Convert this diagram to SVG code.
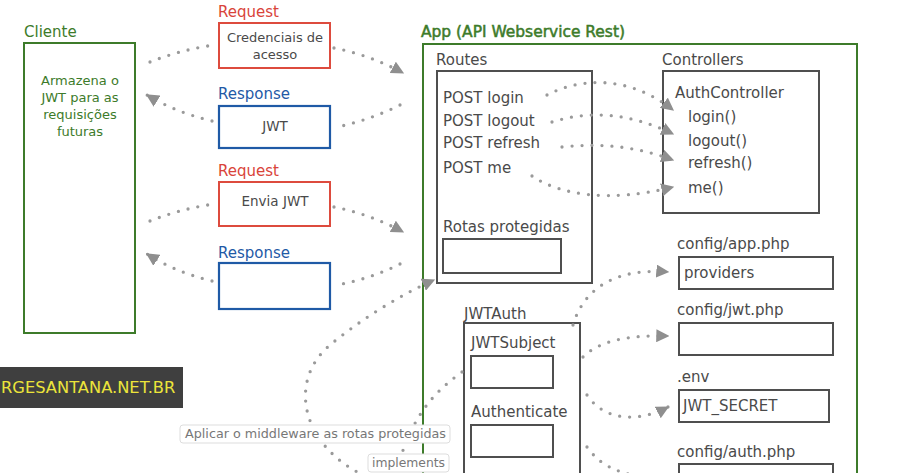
<svg xmlns="http://www.w3.org/2000/svg" width="909" height="473" viewBox="0 0 909 473">
<style>
text{font-family:"DejaVu Sans","Liberation Sans",sans-serif;fill:#4a4a4a;font-size:15px}
.g{fill:#3d7b2a}
.r{fill:#d9443a}
.b{fill:#1f5aa6}
.sm{font-size:13px}
.bt{font-size:13.5px}
.box{fill:#fff;stroke:#4f4f4f;stroke-width:2}
.gbox{fill:none;stroke:#3d7b2a;stroke-width:2}
.rbox{fill:#fff;stroke:#dd4b3e;stroke-width:2}
.bbox{fill:#fff;stroke:#1f5aa6;stroke-width:2.2}
.dot{fill:none;stroke:#9a9a9a;stroke-width:3.3;stroke-linecap:round;stroke-dasharray:0 10}
.lbl{fill:#fff;stroke:#ddd;stroke-width:1}
.lt{font-size:12px;fill:#777}
</style>
<defs>
<marker id="ah" viewBox="0 0 10 10" refX="9" refY="5" markerWidth="13" markerHeight="13" markerUnits="userSpaceOnUse" orient="auto">
<path d="M0 0 L10 5 L0 10 Z" fill="#8f8f8f"/>
</marker>
</defs>

<g id="cliente">
<text class="g" x="24" y="37">Cliente</text>
<rect class="gbox" x="24" y="43" width="111" height="290"/>
<text class="g sm" text-anchor="middle" x="80" y="85">Armazena o</text>
<text class="g sm" text-anchor="middle" x="80" y="102">JWT para as</text>
<text class="g sm" text-anchor="middle" x="80" y="119">requisições</text>
<text class="g sm" text-anchor="middle" x="80" y="136">futuras</text>
</g>

<g id="req1">
<text class="r" x="218" y="17">Request</text>
<rect class="rbox" x="219" y="23" width="111" height="45"/>
<text class="sm" text-anchor="middle" x="275" y="42">Credenciais de</text>
<text class="sm" text-anchor="middle" x="275" y="59">acesso</text>
</g>

<g id="resp1">
<text class="b" x="218" y="99">Response</text>
<rect class="bbox" x="219" y="106" width="111" height="42"/>
<text class="bt" text-anchor="middle" x="275" y="131">JWT</text>
</g>

<g id="req2">
<text class="r" x="218" y="176">Request</text>
<rect class="rbox" x="219" y="182" width="111" height="44"/>
<text class="bt" text-anchor="middle" x="275" y="206">Envia JWT</text>
</g>

<g id="resp2">
<text class="b" x="218" y="258">Response</text>
<rect class="bbox" x="219" y="263" width="111" height="46"/>
</g>

<g id="watermark">
<rect x="0" y="367" width="183" height="41" fill="#3f3f3f"/>
<text x="1" y="393" style="fill:#ece43a;font-size:16.3px">RGESANTANA.NET.BR</text>
</g>

<g id="app">
<text class="g" x="421" y="37" style="stroke:#3d7b2a;stroke-width:0.5" textLength="204" lengthAdjust="spacingAndGlyphs">App (API Webservice Rest)</text>
<rect class="gbox" x="423" y="44" width="434" height="440"/>
</g>

<g id="routes">
<text x="436" y="65">Routes</text>
<rect class="box" x="437" y="71" width="155" height="212"/>
<text x="443" y="103">POST login</text>
<text x="443" y="126">POST logout</text>
<text x="443" y="148">POST refresh</text>
<text x="443" y="173">POST me</text>
<text x="443" y="232">Rotas protegidas</text>
<rect class="box" x="443" y="239" width="118" height="34"/>
</g>

<g id="controllers">
<text x="662" y="65">Controllers</text>
<rect class="box" x="663" y="71" width="156" height="142"/>
<text x="675" y="98">AuthController</text>
<text x="688" y="122">login()</text>
<text x="688" y="146">logout()</text>
<text x="688" y="168">refresh()</text>
<text x="688" y="193">me()</text>
</g>

<g id="config-app">
<text x="677" y="249">config/app.php</text>
<rect class="box" x="679" y="257" width="154" height="32"/>
<text x="684" y="278">providers</text>
</g>

<g id="config-jwt">
<text x="677" y="315">config/jwt.php</text>
<rect class="box" x="679" y="323" width="154" height="32"/>
</g>

<g id="env">
<text x="677" y="382">.env</text>
<rect class="box" x="679" y="390" width="150" height="32"/>
<text x="683" y="411">JWT_SECRET</text>
</g>

<g id="config-auth">
<text x="677" y="457">config/auth.php</text>
<rect class="box" x="679" y="464" width="154" height="30"/>
</g>

<g id="jwtauth">
<text x="464" y="319">JWTAuth</text>
<rect class="box" x="464" y="323" width="116" height="160"/>
<text x="471" y="348">JWTSubject</text>
<rect class="box" x="471" y="356" width="82" height="32"/>
<text x="471" y="417">Authenticate</text>
<rect class="box" x="471" y="425" width="82" height="32"/>
</g>

<g id="connectors">
<path class="dot" d="M150 62 Q180 50 214 45"/>
<path class="dot" d="M334 48 Q370 55 403 73" marker-end="url(#ah)"/>
<path class="dot" d="M400 105 Q370 120 337 127"/>
<path class="dot" d="M212 121 Q175 112 147 95" marker-end="url(#ah)"/>
<path class="dot" d="M150 221 Q180 209 214 204"/>
<path class="dot" d="M334 207 Q370 214 403 232" marker-end="url(#ah)"/>
<path class="dot" d="M400 264 Q370 279 337 285"/>
<path class="dot" d="M212 281 Q175 272 147 254" marker-end="url(#ah)"/>

<path class="dot" d="M547 95 C575 80 625 72 673 110" marker-end="url(#ah)"/>
<path class="dot" d="M552 122 C590 110 630 113 673 134" marker-end="url(#ah)"/>
<path class="dot" d="M562 147 C600 143 635 146 673 160" marker-end="url(#ah)"/>
<path class="dot" d="M532 176 C560 195 610 203 673 187" marker-end="url(#ah)"/>

<path class="dot" d="M573 325 C585 285 620 268 668 272" marker-end="url(#ah)"/>
<path class="dot" d="M583 357 C600 340 630 335 668 336" marker-end="url(#ah)"/>
<path class="dot" d="M587 395 C605 422 640 422 668 407" marker-end="url(#ah)"/>
<path class="dot" d="M587 447 C600 465 615 472 645 478"/>

<path class="dot" d="M365 476 C300 445 288 380 330 345 C360 320 400 295 434 280" marker-end="url(#ah)"/>
<path class="dot" d="M462 372 C430 395 410 420 395 476"/>

<g id="label-middleware">
<rect class="lbl" x="180" y="425" width="270" height="18" rx="3"/>
<text class="lt" x="185" y="438" textLength="261" lengthAdjust="spacingAndGlyphs">Aplicar o middleware as rotas protegidas</text>
</g>
<g id="label-implements">
<rect class="lbl" x="368" y="454" width="81" height="18" rx="3"/>
<text class="lt" x="372" y="467" textLength="73" lengthAdjust="spacingAndGlyphs">implements</text>
</g>
</g>
</svg>
